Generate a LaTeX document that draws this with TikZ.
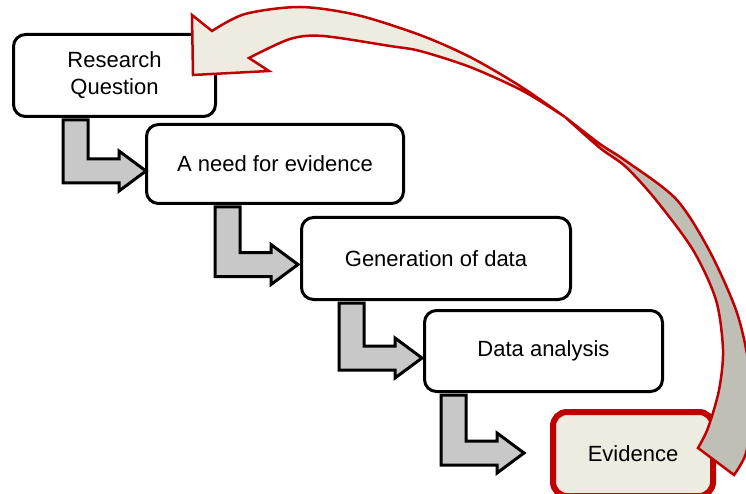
\documentclass[tikz,border=0pt]{standalone}
\usepackage{fontspec}
\setmainfont{Liberation Sans}
\usepackage{tikz}
\usetikzlibrary{calc}
\definecolor{evRed}{RGB}{192,0,0}
\definecolor{evBeige}{RGB}{238,236,225}
\definecolor{bandGrey}{RGB}{191,191,181}
\definecolor{arrowGrey}{RGB}{200,200,200}

\begin{document}
\begin{tikzpicture}[x=1pt, y=-1pt,
  stepBox/.style={draw, line width=3pt, rounded corners=12pt, fill=white, align=center, font=\fontsize{22}{27}\selectfont},
  bentArrow/.style={draw, line width=3pt, fill=arrowGrey},
  band/.style={draw=evRed, line width=2.5pt}]
\useasboundingbox (0,0) rectangle (746,494);
\node[stepBox, minimum width=202pt, minimum height=82pt] (rq) at (114.5,75.5) {Research\\Question};
\node[stepBox, minimum width=257pt, minimum height=79pt] (need) at (275,164) {A need for evidence};
\node[stepBox, minimum width=269pt, minimum height=82pt] (gen) at (436,258.5) {Generation of data};
\node[stepBox, minimum width=238pt, minimum height=81pt] (ana) at (543.5,351) {Data analysis};
\node[stepBox, draw=evRed, fill=evBeige, line width=6pt, rounded corners=14pt, minimum width=160pt, minimum height=84pt] (ev) at (633,454) {Evidence};
\foreach \src/\dst/\dx/\dy in {rq/need/1/7, need/gen/-2/6, gen/ana/-1/7, ana/ev/-26/-1} {
  \coordinate (tip) at ($(\dst.west)+(\dx,\dy)$);
  \coordinate (stem) at ($(tip)+(-83,0)$);
  \draw[bentArrow] ($(stem |- \src.south)+(0,2)$) -- ++(25,0) -- ($(tip)+(-58,-12)$) -- ($(tip)+(-27,-12)$)
    -- ++(0,-8) -- (tip) -- ++(-27,20) -- ++(0,-8) -- ($(stem)+(0,12)$) -- cycle;
}
\draw[band, fill=bandGrey] (565,117) -- plot[smooth] coordinates {(565,117) (600,144) (626,161) (676,199) (709,250) (736,310) (748,360) (752,410) (746,453) (734,475)}
  -- (698,448) -- plot[smooth] coordinates {(698,448) (708,428) (719,390) (723,350) (716,300) (693,250) (656,200) (626,167) (600,148) (565,117)} -- cycle;
\draw[band, fill=evBeige] (192,15) -- (212,31) -- plot[smooth] coordinates {(212,31) (245,14) (300,7) (357,15) (420,35) (470,57) (520,86) (565,117)}
  -- plot[smooth] coordinates {(565,117) (523,91) (470,67) (420,51) (390,46) (323,36) (290,39) (249,58)} -- (269,71) -- (193,75) -- cycle;
\end{tikzpicture}
\end{document}
